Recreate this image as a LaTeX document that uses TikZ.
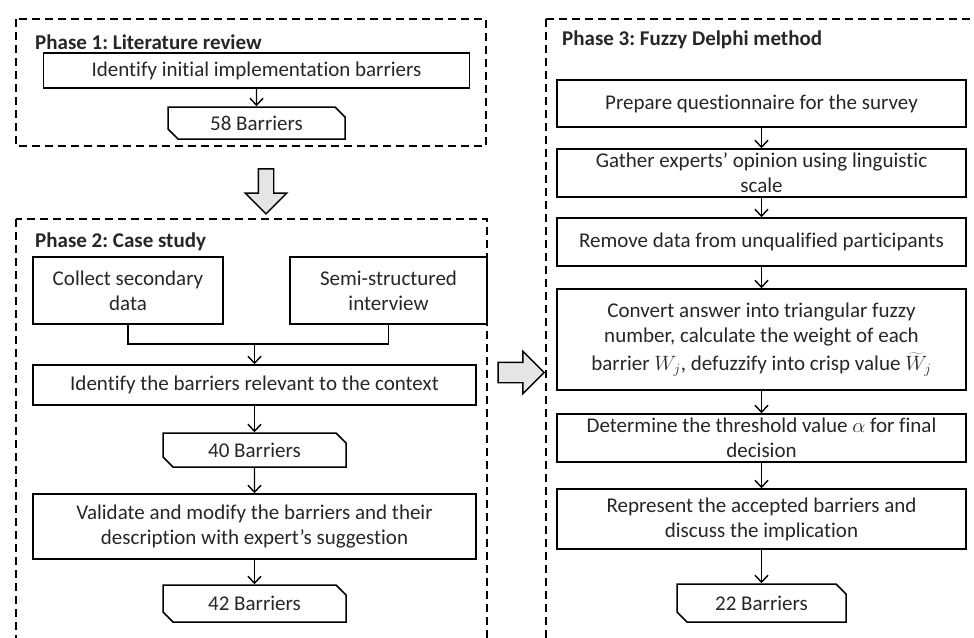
\documentclass[tikz,border=0pt]{standalone}
\usepackage{fontspec}
\setmainfont{Carlito}[Ligatures=NoCommon]
\frenchspacing
\usetikzlibrary{arrows.meta,shapes.misc,shapes.arrows}

\tikzset{
  every node/.style={font=\fontsize{21}{25}\selectfont, text=black!85},
  stepbox/.style={draw, line width=1.5pt, align=center, inner sep=0pt},
  countbox/.style={draw, line width=1.5pt, chamfered rectangle,
    chamfered rectangle corners={north east,south west},
    chamfered rectangle sep=5pt, inner sep=0pt},
  phasebox/.style={draw, line width=1.4pt, dash pattern=on 8pt off 5pt},
  phasetitle/.style={anchor=west, inner sep=0pt, font=\fontsize{21}{25}\selectfont\bfseries},
  flow/.style={line width=1.4pt, -{Straight Barb[length=7pt,width=13pt]}},
  link/.style={line width=1.4pt},
  bigarrow/.style={single arrow, draw, line width=1.4pt, fill=gray!20,
    single arrow head extend=13pt, inner xsep=0pt, minimum height=45pt}
}

\begin{document}
\begin{tikzpicture}[x=1pt, y=-1pt]
  \useasboundingbox (0,0) rectangle (974,637);
  \clip (0,0) rectangle (974,637);
  % phase frames
  \draw[phasebox] (16,19) rectangle (486,146);
  \draw[phasebox] (16,219) rectangle (487,700);
  \draw[phasebox] (546,19) rectangle (1000,700);
  \node[phasetitle] (t1) at (35,42) {Phase 1: Literature review};
  \node[phasetitle] (t2) at (35,242) {Phase 2: Case study};
  \node[phasetitle] (t3) at (562,40) {Phase 3: Fuzzy Delphi method};

  % phase 1
  \node[stepbox, minimum width=426pt, minimum height=35pt] (lit) at (256.5,70.5)
    {Identify initial implementation barriers};
  \node[countbox, minimum width=177pt, minimum height=32pt] (b58) at (256.5,123) {58 Barriers};
  \draw[flow] (lit) -- (b58);

  % big arrows between phases
  \node[bigarrow, rotate=-90, inner ysep=7pt] (down) at (266,187.5) {};
  \node[bigarrow, inner ysep=9.5pt, single arrow head extend=11pt, minimum height=46pt] (right) at (516,372.5) {};

  % phase 2
  \node[stepbox, minimum width=190pt, minimum height=67pt] (collect) at (128,290.5)
    {Collect secondary\\data};
  \node[stepbox, minimum width=197pt, minimum height=67pt] (semi) at (388.5,290.5)
    {Semi-structured\\interview};
  \coordinate (join) at (254.5,344);
  \foreach \name/\y/\h/\txt in {
    relevant/385/40/{Identify the barriers relevant to the context},
    validate/526.5/65/{Validate and modify the barriers and their\\description with expert’s suggestion}}
  {
    \node[stepbox, minimum width=443pt, minimum height=\h pt] (\name) at (254.5,\y) {\txt};
  }
  \node[countbox, minimum width=183pt, minimum height=34pt] (b40) at (254.5,450) {40 Barriers};
  \node[countbox, minimum width=183pt, minimum height=37pt] (b42) at (254.5,603.5) {42 Barriers};
  \draw[link] (collect.south) |- (join) -| (semi.south);
  \draw[flow] (join) -- (relevant);
  \draw[flow] (relevant) -- (b40);
  \draw[flow] (b40) -- (validate);
  \draw[flow] (validate) -- (b42);

  % phase 3
  \foreach \name/\y/\h/\txt in {
    prep/103.5/47/{Prepare questionnaire for the survey},
    gather/173/48/{Gather experts’ opinion using linguistic\\scale},
    remove/242/48/{Remove data from unqualified participants},
    convert/339.5/101/{Convert answer into triangular fuzzy\\number, calculate the weight of each\\[3pt]barrier $W_j$, defuzzify into crisp value $\widetilde{W}_j$},
    thresh/438/48/{Determine the threshold value $\alpha$ for final\\decision},
    repr/519/60/{Represent the accepted barriers and\\discuss the implication}}
  {
    \node[stepbox, minimum width=409pt, minimum height=\h pt] (\name) at (761.5,\y) {\txt};
  }
  \node[countbox, minimum width=169pt, minimum height=38pt] (b22) at (761.5,603) {22 Barriers};
  \foreach \a/\b in {prep/gather, gather/remove, remove/convert, convert/thresh, thresh/repr, repr/b22}
    \draw[flow] (\a) -- (\b);
\end{tikzpicture}
\end{document}
